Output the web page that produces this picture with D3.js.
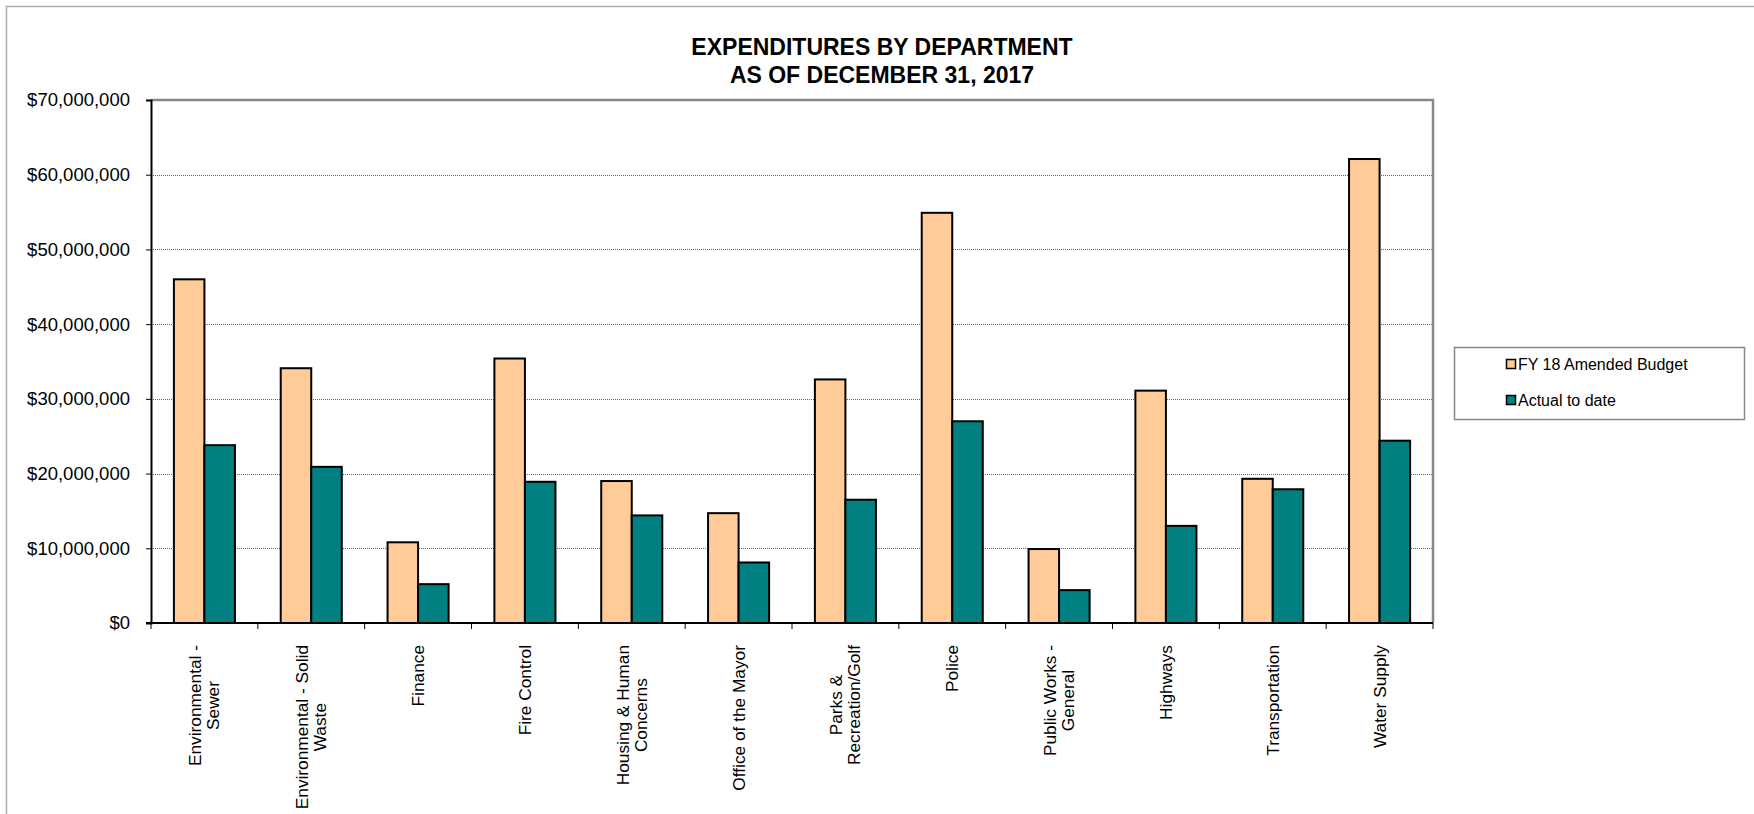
<!DOCTYPE html>
<html>
<head>
<meta charset="utf-8">
<script src="https://cdn.jsdelivr.net/npm/d3@7"></script>
<style>
  body { margin: 0; background: #fff; }
  text { font-family: "Liberation Sans", Arial, sans-serif; fill: #000; }
</style>
</head>
<body>
<div id="chart"></div>
<script>
// departments (line breaks as in the original labels)
var departments = [
  ["Environmental -", "Sewer"],
  ["Environmental - Solid", "Waste"],
  ["Finance"],
  ["Fire Control"],
  ["Housing & Human", "Concerns"],
  ["Office of the Mayor"],
  ["Parks &", "Recreation/Golf"],
  ["Police"],
  ["Public Works -", "General"],
  ["Highways"],
  ["Transportation"],
  ["Water Supply"]
];
var seriesNames = ["FY 18 Amended Budget", "Actual to date"];
var budget = [46000000, 34100000, 10800000, 35400000, 19000000, 14700000, 32600000, 54900000, 9900000, 31100000, 19300000, 62100000];
var actual = [23800000, 20900000, 5200000, 18900000, 14400000, 8100000, 16500000, 27000000, 4400000, 13000000, 17900000, 24400000];
var yTicks = [0, 10000000, 20000000, 30000000, 40000000, 50000000, 60000000, 70000000];
var titleLines = ["EXPENDITURES BY DEPARTMENT", "AS OF DECEMBER 31, 2017"];

var colors = ["#FFCC99", "#008080"];

var W = 1754, H = 814;
var plot = { left: 151, top: 100, right: 1433, bottom: 623 };

var svg = d3.select("#chart").append("svg")
  .attr("width", W)
  .attr("height", H);

// chart area border (only top/left visible in the original crop)
svg.append("rect")
  .attr("x", 6.5).attr("y", 6.5)
  .attr("width", W + 20).attr("height", H + 20)
  .attr("fill", "none")
  .attr("stroke", "#aaa")
  .attr("stroke-width", 1.5);

// title
svg.append("g").selectAll("text")
  .data(titleLines)
  .enter().append("text")
    .attr("x", 882)
    .attr("y", function(d, i) { return 55 + i * 28; })
    .attr("text-anchor", "middle")
    .style("font-size", "23px")
    .style("font-weight", "bold")
    .text(function(d) { return d; });

var keys = departments.map(function(d) { return d.join(" "); });

var x0 = d3.scaleBand()
  .domain(keys)
  .range([plot.left, plot.right])
  .padding(0);

var catW = x0.bandwidth();
var gap = catW * 1.5 / 3.5;
var x1 = d3.scaleBand()
  .domain(seriesNames)
  .range([gap / 2, catW - gap / 2])
  .padding(0);

var y = d3.scaleLinear()
  .domain([0, 70000000])
  .range([plot.bottom, plot.top]);

// gridlines
svg.append("g").selectAll("line")
  .data(yTicks.slice(1, -1))
  .enter().append("line")
    .attr("x1", plot.left).attr("x2", plot.right)
    .attr("y1", function(d) { return Math.round(y(d)) + 0.5; })
    .attr("y2", function(d) { return Math.round(y(d)) + 0.5; })
    .attr("stroke", "#666")
    .attr("stroke-dasharray", "1,1")
    .attr("stroke-width", 1);

// top / right plot border
svg.append("path")
  .attr("d", "M" + plot.left + "," + plot.top + "H" + plot.right + "V" + plot.bottom)
  .attr("fill", "none")
  .attr("stroke", "#888")
  .attr("stroke-width", 2.5);

// bars
var rows = departments.map(function(d, i) {
  return { key: keys[i], values: [budget[i], actual[i]] };
});

var groups = svg.append("g").selectAll("g")
  .data(rows)
  .enter().append("g")
    .attr("transform", function(d) { return "translate(" + x0(d.key) + ",0)"; });

groups.selectAll("rect")
  .data(function(d) { return d.values.map(function(v, j) { return { name: seriesNames[j], value: v, j: j }; }); })
  .enter().append("rect")
    .attr("x", function(d) { return x1(d.name); })
    .attr("y", function(d) { return y(d.value); })
    .attr("width", x1.bandwidth())
    .attr("height", function(d) { return plot.bottom - y(d.value); })
    .attr("fill", function(d) { return colors[d.j]; })
    .attr("stroke", "#000")
    .attr("stroke-width", 2);

// y axis
var yAxis = svg.append("g")
  .attr("transform", "translate(" + plot.left + ",0)")
  .call(d3.axisLeft(y)
    .tickValues(yTicks)
    .tickSize(5)
    .tickPadding(16)
    .tickFormat(function(d) { return "$" + d3.format(",")(d); }));
yAxis.select(".domain").attr("stroke", "#000").attr("stroke-width", 2);
yAxis.selectAll(".tick line").attr("stroke", "#000");
yAxis.selectAll("text")
  .style("font-size", "18.5px")
  .attr("font-family", null);

// x axis: ticks at category boundaries
var xAxisG = svg.append("g");
xAxisG.append("line")
  .attr("x1", plot.left - 5).attr("x2", plot.right)
  .attr("y1", plot.bottom).attr("y2", plot.bottom)
  .attr("stroke", "#000")
  .attr("stroke-width", 2);
xAxisG.selectAll(".xtick")
  .data(d3.range(departments.length + 1))
  .enter().append("line")
    .attr("class", "xtick")
    .attr("x1", function(i) { return plot.left + i * catW; })
    .attr("x2", function(i) { return plot.left + i * catW; })
    .attr("y1", plot.bottom)
    .attr("y2", plot.bottom + 6)
    .attr("stroke", "#000");

// x labels, rotated, top aligned, lines centered
var lineH = 18;
var labels = xAxisG.selectAll(".xlabel")
  .data(departments)
  .enter().append("text")
    .attr("class", "xlabel")
    .style("font-size", "17.3px")
    .attr("text-anchor", "middle");

labels.selectAll("tspan")
  .data(function(d) { return d; })
  .enter().append("tspan")
    .attr("x", 0)
    .attr("dy", function(d, i) { return i === 0 ? 0 : lineH; })
    .text(function(d) { return d; });

labels.each(function(d, i) {
  var t = d3.select(this);
  var maxLen = d3.max(t.selectAll("tspan").nodes(), function(n) { return n.getComputedTextLength(); });
  var n = d.length;
  var cx = x0(keys[i]) + catW / 2;
  // first line baseline offset so the block is centred on the category
  var shift = -((n - 1) * lineH) / 2 + 6;
  t.attr("transform", "translate(" + (cx + shift) + "," + (645 + maxLen / 2) + ") rotate(-90)");
});

// legend
var legend = svg.append("g");
legend.append("rect")
  .attr("x", 1454.5).attr("y", 347.5)
  .attr("width", 290).attr("height", 72)
  .attr("fill", "#fff")
  .attr("stroke", "#888")
  .attr("stroke-width", 1.5);

var li = legend.selectAll(".li")
  .data(seriesNames)
  .enter().append("g")
    .attr("class", "li")
    .attr("transform", function(d, i) { return "translate(1506," + (370 + i * 36) + ")"; });
li.append("rect")
  .attr("x", 0.5).attr("y", -10.5)
  .attr("width", 9).attr("height", 9)
  .attr("fill", function(d, i) { return colors[i]; })
  .attr("stroke", "#000")
  .attr("stroke-width", 1.5);
li.append("text")
  .attr("x", 12)
  .attr("y", 0)
  .style("font-size", "16px")
  .text(function(d) { return d; });
</script>
</body>
</html>
